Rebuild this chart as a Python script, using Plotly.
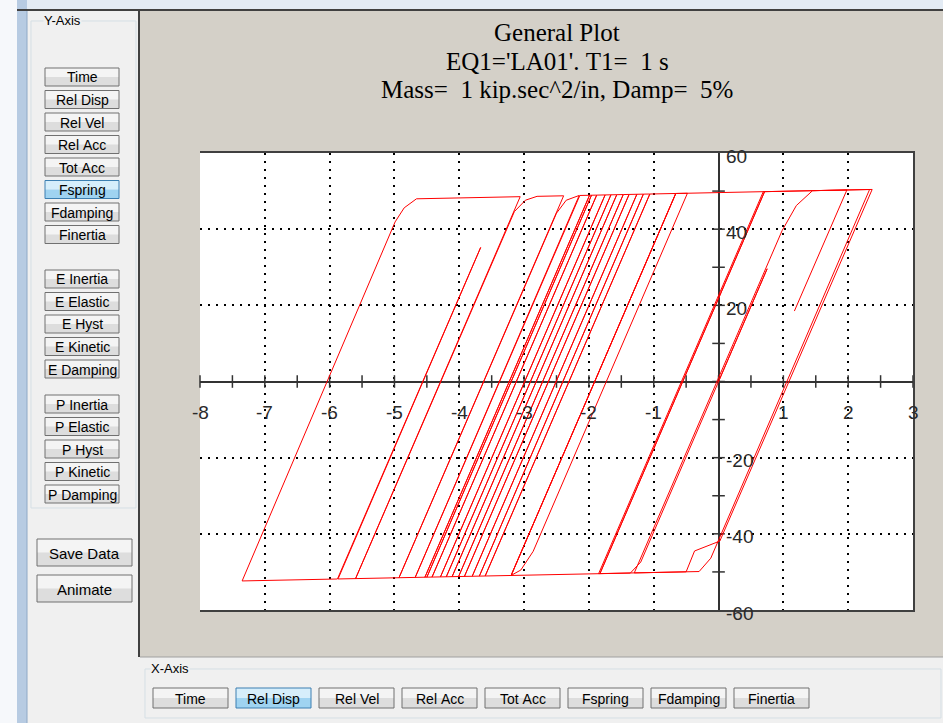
import plotly.graph_objects as go

W, H = 943, 723

# ---------------- data ----------------
# hysteresis path (relative displacement [in], spring force [kip]) : turning points
rel_disp = [0.00, 0.45, -0.50, 0.75, -0.80, -0.30, -1.05, -1.20, -1.36, -5.87,
            -3.67, -5.70, -3.72, -5.60, -3.75, -5.88, -7.35, -4.99, -4.85, -4.66,
            -3.06, -5.60, -3.15, -2.98, -2.80, -2.39, -4.93, -2.50, -2.35, -2.15,
            -4.68, -2.14, -1.99, -4.53, -1.99, -1.96, -4.50, -1.96, -1.88, -4.42,
            -1.88, -1.75, -4.29, -1.75, -1.66, -4.20, -1.66, -1.57, -4.11, -1.57,
            -1.47, -4.01, -1.47, -1.38, -3.92, -1.38, -1.26, -3.80, -1.26, -1.16,
            -3.69, -1.16, -1.06, -3.60, -1.06, -0.66, -3.20, -0.66, -0.48, -2.86,
            -3.05, -3.20, -0.66, 0.71, -1.83, 0.30, -1.83, 0.71, 2.33, 0.00,
            -0.12, -0.30, -1.30, 0.98, 1.20, 1.45, 2.37, 0.02, -0.37, -0.50,
            -1.85, 0.69, 1.98, 1.17]
f_spring = [0.0, 17.8, -19.8, 29.6, -31.6, -11.9, -41.5, -47.4, -50.3, -51.85,
            35.2, -45.0, 33.2, -41.1, 32.0, -51.86, -52.37, 41.9, 45.6, 47.97,
            48.53, -51.76, 44.6, 47.6, 48.62, 48.76, -51.52, 44.2, 47.6, 48.85,
            -51.44, 48.85, 48.90, -51.39, 48.90, 48.91, -51.38, 48.91, 48.94, -51.35,
            48.94, 48.99, -51.30, 48.99, 49.02, -51.27, 49.02, 49.05, -51.24, 49.05,
            49.09, -51.20, 49.09, 49.12, -51.17, 49.12, 49.16, -51.13, 49.16, 49.20,
            -51.09, 49.20, 49.23, -51.06, 49.23, 49.37, -50.92, 49.37, 49.43, -44.6,
            -49.5, -50.92, 49.37, 49.85, -50.44, 33.6, -50.44, 49.85, 50.41, -41.5,
            -46.4, -49.90, -50.26, 39.6, 46.2, 50.11, 50.43, -41.9, -44.5, -49.98,
            -50.45, 49.84, 50.29, 18.5]

x_label_vals = [-8, -7, -6, -5, -4, -3, -2, -1, 1, 2, 3]
y_label_vals = [60, 40, 20, -20, -40, -60]
x_axis_ticks = [-8, -7.5, -7, -6.5, -6, -5.5, -5, -4.5, -4, -3.5, -3, -2.5, -2,
                -1.5, -1, -0.5, 0, 0.5, 1, 1.5, 2, 2.5, 3]
y_axis_ticks = [-50, -40, -30, -20, -10, 0, 10, 20, 30, 40, 50]
x_grid = [-7, -6, -5, -4, -3, -2, -1, 1, 2]
y_grid = [-40, -20, 20, 40]

title_lines = ["General Plot",
               "EQ1='LA01'. T1=  1 s",
               "Mass=  1 kip.sec^2/in, Damp=  5%"]

y_buttons_a = ["Time", "Rel Disp", "Rel Vel", "Rel Acc", "Tot Acc", "Fspring", "Fdamping", "Finertia"]
y_buttons_e = ["E Inertia", "E Elastic", "E Hyst", "E Kinetic", "E Damping"]
y_buttons_p = ["P Inertia", "P Elastic", "P Hyst", "P Kinetic", "P Damping"]
x_buttons = ["Time", "Rel Disp", "Rel Vel", "Rel Acc", "Tot Acc", "Fspring", "Fdamping", "Finertia"]
y_selected = "Fspring"
x_selected = "Rel Disp"

# ---------------- helpers (pixel -> paper) ----------------
def px(x):
    return x / W

def py(y):
    return 1 - y / H

shapes = []
annos = []

def rect(x0, y0, x1, y1, fill=None, line=None, lw=1, layer="below"):
    shapes.append(dict(type="rect", xref="paper", yref="paper",
                       x0=px(x0), x1=px(x1), y0=py(y0), y1=py(y1),
                       fillcolor=fill if fill else "rgba(0,0,0,0)",
                       line=dict(color=line if line else "rgba(0,0,0,0)", width=lw if line else 0),
                       layer=layer))

def hline(x0, x1, y, color, lw=1, layer="below"):
    shapes.append(dict(type="line", xref="paper", yref="paper",
                       x0=px(x0), x1=px(x1), y0=py(y), y1=py(y),
                       line=dict(color=color, width=lw), layer=layer))

def vline(x, y0, y1, color, lw=1, layer="below"):
    shapes.append(dict(type="line", xref="paper", yref="paper",
                       x0=px(x), x1=px(x), y0=py(y0), y1=py(y1),
                       line=dict(color=color, width=lw), layer=layer))

def text(cx, cy, s, size=13, color="black", family="Liberation Sans", anchor="center", bg=None):
    annos.append(dict(xref="paper", yref="paper", x=px(cx), y=py(cy), text=s,
                      showarrow=False, xanchor=anchor, yanchor="middle",
                      font=dict(family=family, size=size, color=color),
                      bgcolor=bg if bg else "rgba(0,0,0,0)", borderpad=0))

def button(x0, y0, x1, y1, label, selected=False, size=14):
    if selected:
        top, bot, border = "#d6eefb", "#9fd3f1", "#3c7fb1"
    else:
        top, bot, border = "#f4f4f4", "#dddddd", "#707070"
    ym = (y0 + y1) / 2
    rect(x0, y0, x1, ym, fill=top)
    rect(x0, ym, x1, y1, fill=bot)
    rect(x0, y0, x1, y1, line=border, lw=1)
    text((x0 + x1) / 2, ym + 0.5, label.replace(" ", "\u00a0"), size=size)

PANEL = "#f0f0f0"
GREY = "#d4d0c8"

# window chrome
rect(0, 0, W, 9, fill="#e3ebf4")
rect(0, 0, 17, H, fill="#f6f8fb")
rect(17, 0, 27, H, fill="#b7cbe2")
vline(27, 9, H, "#8ea8c6", 1)
# grey plot panel
rect(140, 10, W, 657, fill=GREY)
hline(17, W, 10, "#404040", 2)
vline(139, 10, 657, "#404040", 2)
hline(140, W, 657, "#a0a0a0", 1)
# white plot area
rect(200, 153, 913, 610, fill="white")

# Y-axis group
shapes.append(dict(type="rect", xref="paper", yref="paper", x0=px(31), x1=px(136), y0=py(21), y1=py(508),
                   line=dict(color="#d5dfe5", width=1), fillcolor="rgba(0,0,0,0)", layer="below"))
text(43, 20, "Y-Axis", size=13, anchor="left", bg=PANEL)
for i, lab in enumerate(y_buttons_a):
    cy = 77 + 22.5 * i
    button(45, cy - 9, 119, cy + 9, lab, selected=(lab == y_selected))
for i, lab in enumerate(y_buttons_e):
    cy = 279 + 22.5 * i
    button(45, cy - 9, 119, cy + 9, lab)
for i, lab in enumerate(y_buttons_p):
    cy = 404 + 22.5 * i
    button(45, cy - 9, 119, cy + 9, lab)
button(37, 539, 132, 566, "Save Data", size=15)
button(37, 575, 132, 602, "Animate", size=15)

# X-axis group
shapes.append(dict(type="rect", xref="paper", yref="paper", x0=px(145), x1=px(941), y0=py(669), y1=py(718),
                   line=dict(color="#d5dfe5", width=1), fillcolor="rgba(0,0,0,0)", layer="below"))
text(150, 668, "X-Axis", size=13, anchor="left", bg=PANEL)
for i, lab in enumerate(x_buttons):
    x0 = 153 + 83 * i
    button(x0, 688, x0 + 75, 708, lab, selected=(lab == x_selected))

# title
for i, line in enumerate(title_lines):
    text(557, 33 + 28 * i, line.replace(" ", "\u00a0"), size=25, family="Liberation Serif")

# tick labels next to the axes (through data coordinates)
tick_font = dict(family="Liberation Sans", size=19, color="#2a2a2a")
for v in x_label_vals:
    annos.append(dict(xref="x", yref="y", x=v, y=0, text=str(v), showarrow=False,
                      xanchor="center", yanchor="middle", yshift=-31, font=tick_font))
for v in y_label_vals:
    annos.append(dict(xref="x", yref="y", x=0, y=v, text=str(v), showarrow=False,
                      xanchor="left", yanchor="middle", xshift=5, yshift=-3, font=tick_font))

fig = go.Figure()
# tick marks on the crossing axes
fig.add_trace(go.Scatter(x=x_axis_ticks, y=[0] * len(x_axis_ticks), mode="markers",
                         marker=dict(symbol="line-ns", size=9, line=dict(color="#333333", width=1.5)),
                         hoverinfo="skip", cliponaxis=False))
fig.add_trace(go.Scatter(x=[0] * len(y_axis_ticks), y=y_axis_ticks, mode="markers",
                         marker=dict(symbol="line-ew", size=9, line=dict(color="#333333", width=1.5)),
                         hoverinfo="skip", cliponaxis=False))
# hysteresis curve
fig.add_trace(go.Scatter(x=rel_disp, y=f_spring, mode="lines",
                         line=dict(color="#ff0000", width=1), hoverinfo="skip"))

fig.update_layout(
    width=W, height=H, margin=dict(l=0, r=0, t=0, b=0),
    paper_bgcolor=PANEL, plot_bgcolor="white", showlegend=False,
    shapes=shapes, annotations=annos,
    xaxis=dict(domain=[200 / W, 913 / W], range=[-8, 3], tickvals=x_grid, showticklabels=False,
               showgrid=True, gridcolor="#000000", gridwidth=1.5, griddash="2px,6px",
               zeroline=True, zerolinecolor="#333333", zerolinewidth=2,
               showline=True, mirror=True, linecolor="#404040", linewidth=2, ticks=""),
    yaxis=dict(domain=[1 - 610 / H, 1 - 153 / H], range=[-60, 60], tickvals=y_grid, showticklabels=False,
               showgrid=True, gridcolor="#000000", gridwidth=1.5, griddash="2px,6px",
               zeroline=True, zerolinecolor="#333333", zerolinewidth=2, side="right",
               showline=True, mirror=False, linecolor="#404040", linewidth=2, ticks=""),
)

fig.write_html("out.html", config={"displayModeBar": False},
               post_script="document.body.style.margin='0px';")
